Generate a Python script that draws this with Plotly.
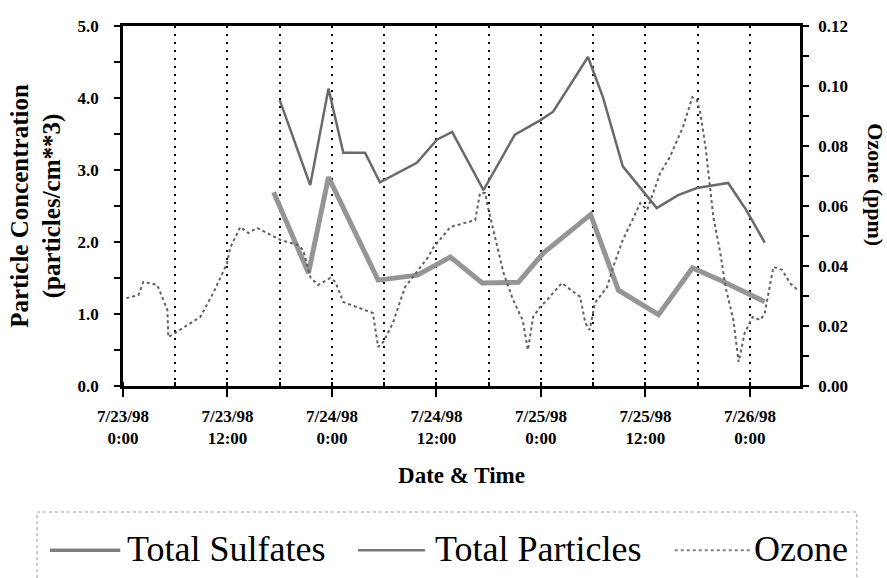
import plotly.graph_objects as go

# ---------------- data ----------------
particles_time = [
    "1998-07-23 18:00", "1998-07-23 21:30", "1998-07-23 23:36", "1998-07-24 01:18",
    "1998-07-24 03:48", "1998-07-24 05:30", "1998-07-24 09:45", "1998-07-24 12:03",
    "1998-07-24 13:48", "1998-07-24 17:24", "1998-07-24 21:00", "1998-07-24 23:54",
    "1998-07-25 01:24", "1998-07-25 05:24", "1998-07-25 07:06", "1998-07-25 09:24",
    "1998-07-25 13:18", "1998-07-25 15:45", "1998-07-25 17:54", "1998-07-25 21:30",
    "1998-07-25 23:36", "1998-07-26 01:42",
]
particles_vals = [3.97, 2.79, 4.13, 3.24, 3.24, 2.83, 3.10, 3.42, 3.53, 2.72, 3.49,
                  3.69, 3.81, 4.57, 4.02, 3.05, 2.47, 2.65, 2.75, 2.82, 2.44, 1.99]

sulfates_time = [
    "1998-07-23 17:18", "1998-07-23 21:18", "1998-07-23 23:36", "1998-07-24 05:18",
    "1998-07-24 09:48", "1998-07-24 13:36", "1998-07-24 17:15", "1998-07-24 21:24",
    "1998-07-25 00:18", "1998-07-25 05:42", "1998-07-25 08:54", "1998-07-25 13:30",
    "1998-07-25 17:24", "1998-07-25 20:36", "1998-07-26 01:42",
]
sulfates_vals = [2.69, 1.57, 2.90, 1.47, 1.54, 1.79, 1.43, 1.44, 1.85, 2.38, 1.33,
                 0.99, 1.64, 1.47, 1.17]

ozone_time = [
    "1998-07-23 00:23", "1998-07-23 01:46", "1998-07-23 02:20", "1998-07-23 03:56",
    "1998-07-23 05:06", "1998-07-23 05:12", "1998-07-23 06:00", "1998-07-23 08:52",
    "1998-07-23 10:22", "1998-07-23 11:58", "1998-07-23 12:18", "1998-07-23 13:28",
    "1998-07-23 14:24", "1998-07-23 15:24", "1998-07-23 18:04", "1998-07-23 20:06",
    "1998-07-23 20:42", "1998-07-23 21:30", "1998-07-23 22:24", "1998-07-23 23:48",
    "1998-07-24 00:24", "1998-07-24 01:18", "1998-07-24 04:42", "1998-07-24 05:18",
    "1998-07-24 05:54", "1998-07-24 07:00", "1998-07-24 07:36", "1998-07-24 08:24",
    "1998-07-24 11:03", "1998-07-24 11:36", "1998-07-24 13:36", "1998-07-24 16:27",
    "1998-07-24 17:00", "1998-07-24 17:36", "1998-07-24 17:54", "1998-07-24 19:06",
    "1998-07-24 19:42", "1998-07-24 20:48", "1998-07-24 21:54", "1998-07-24 22:30",
    "1998-07-24 23:06", "1998-07-24 23:54", "1998-07-25 00:42", "1998-07-25 02:24",
    "1998-07-25 04:30", "1998-07-25 05:06", "1998-07-25 05:36", "1998-07-25 06:12",
    "1998-07-25 07:36", "1998-07-25 08:18", "1998-07-25 09:24", "1998-07-25 10:30",
    "1998-07-25 11:24", "1998-07-25 12:12", "1998-07-25 12:54", "1998-07-25 13:42",
    "1998-07-25 14:48", "1998-07-25 16:18", "1998-07-25 17:24", "1998-07-25 17:54",
    "1998-07-25 18:18", "1998-07-25 18:54", "1998-07-25 19:48", "1998-07-25 20:36",
    "1998-07-25 21:12", "1998-07-25 22:06", "1998-07-25 22:42", "1998-07-25 23:24",
    "1998-07-26 00:18", "1998-07-26 01:12", "1998-07-26 01:42", "1998-07-26 02:06",
    "1998-07-26 02:42", "1998-07-26 03:42", "1998-07-26 04:36", "1998-07-26 05:30",
]
ozone_vals = [
    0.0293, 0.0303, 0.0347, 0.0337, 0.0253, 0.0163, 0.0177, 0.0230,
    0.0310, 0.0410, 0.0460, 0.0530, 0.0510, 0.0527, 0.0487, 0.0470,
    0.0453, 0.0363, 0.0337, 0.0360, 0.0347, 0.0280, 0.0243, 0.0130,
    0.0147, 0.0210, 0.0263, 0.0330, 0.0430, 0.0460, 0.0530, 0.0553,
    0.0643, 0.0643, 0.0597, 0.0443, 0.0377, 0.0287, 0.0220, 0.0120,
    0.0230, 0.0263, 0.0287, 0.0343, 0.0297, 0.0210, 0.0187, 0.0277,
    0.0330, 0.0397, 0.0487, 0.0553, 0.0610, 0.0587, 0.0643, 0.0710,
    0.0763, 0.0863, 0.0963, 0.0953, 0.0910, 0.0797, 0.0563, 0.0443,
    0.0330, 0.0220, 0.0080, 0.0177, 0.0230, 0.0220, 0.0243, 0.0310,
    0.0397, 0.0387, 0.0343, 0.0320,
]

x_tick_vals = ["1998-07-23 00:00", "1998-07-23 12:00", "1998-07-24 00:00", "1998-07-24 12:00",
               "1998-07-25 00:00", "1998-07-25 12:00", "1998-07-26 00:00"]
x_tick_text = ["7/23/98<br>0:00", "7/23/98<br>12:00", "7/24/98<br>0:00", "7/24/98<br>12:00",
               "7/25/98<br>0:00", "7/25/98<br>12:00", "7/26/98<br>0:00"]

legend_names = ["Total Sulfates", "Total Particles", "Ozone"]

# ---------------- figure ----------------
SERIF = "Liberation Serif"
fig = go.Figure()

fig.add_trace(go.Scatter(x=sulfates_time, y=sulfates_vals, mode="lines", name=legend_names[0],
                         line=dict(color="#959595", width=5), yaxis="y"))
fig.add_trace(go.Scatter(x=particles_time, y=particles_vals, mode="lines", name=legend_names[1],
                         line=dict(color="#6a6a6a", width=2.5), yaxis="y"))
fig.add_trace(go.Scatter(x=ozone_time, y=ozone_vals, mode="lines", name=legend_names[2],
                         line=dict(color="#606060", width=2, dash="dot"), yaxis="y2"))

tick_font = dict(family=SERIF, size=17, color="black", weight="bold")

fig.update_layout(
    width=887, height=578,
    margin=dict(l=123, r=87, t=26, b=192),
    paper_bgcolor="white", plot_bgcolor="white",
    showlegend=False,
    font=dict(family=SERIF, color="black"),
    xaxis=dict(
        type="date",
        range=["1998-07-23 00:00", "1998-07-26 05:45"],
        tickvals=x_tick_vals, ticktext=x_tick_text,
        ticks="outside", ticklen=8, tickwidth=1.5, tickcolor="black",
        tickfont=tick_font, ticklabelstandoff=5,
        showline=True, linecolor="black", linewidth=2.5, mirror=True,
        showgrid=True, gridcolor="black", gridwidth=1.5, griddash="2px,6px",
        minor=dict(dtick=6 * 3600 * 1000, tick0="1998-07-23 00:00", ticks="inside",
                   ticklen=4, tickcolor="black", showgrid=True, gridcolor="black",
                   gridwidth=1.5, griddash="2px,6px"),
        title=dict(text="<b>Date & Time</b>", font=dict(family=SERIF, size=23), standoff=20),
        zeroline=False,
    ),
    yaxis=dict(
        range=[0, 5], dtick=1, tickformat=".1f",
        ticks="outside", ticklen=6, tickwidth=1.5, tickcolor="black",
        tickfont=tick_font, ticklabelstandoff=12,
        minor=dict(dtick=0.5, ticks="outside", ticklen=6, tickcolor="black"),
        showline=True, linecolor="black", linewidth=2.5, mirror=True,
        showgrid=False, zeroline=False,
        title=dict(text="<b>Particle Concentration<br>(particles/cm**3)</b>",
                   font=dict(family=SERIF, size=25), standoff=10),
    ),
    yaxis2=dict(
        range=[0, 0.12], dtick=0.02, tickformat=".2f",
        overlaying="y", side="right",
        ticks="outside", ticklen=6, tickwidth=1.5, tickcolor="black",
        tickfont=tick_font, ticklabelstandoff=6,
        minor=dict(dtick=0.01, ticks="outside", ticklen=6, tickcolor="black"),
        showline=True, linecolor="black", linewidth=2.5,
        showgrid=False, zeroline=False,
    ),
)

# right axis title (reads top to bottom)
fig.add_annotation(text="<b>Ozone (ppm)</b>", xref="paper", yref="paper",
                   x=1.111, y=0.56, xanchor="center", yanchor="middle",
                   textangle=90, showarrow=False,
                   font=dict(family=SERIF, size=22, color="black"))

# custom legend box
fig.add_shape(type="rect", xref="paper", yref="paper", x0=-0.127, x1=1.084, y0=-0.62, y1=-0.35,
              line=dict(color="#999999", width=1, dash="dot"), fillcolor="rgba(0,0,0,0)")
legend_styles = [dict(color="#808080", width=3.5),
                 dict(color="#7a7a7a", width=2.5),
                 dict(color="#808080", width=2, dash="dot")]
sample_x = [(-0.108, -0.004), (0.347, 0.446), (0.815, 0.926)]
text_x = [0.003, 0.458, 0.929]
for name, st, (sx0, sx1), tx in zip(legend_names, legend_styles, sample_x, text_x):
    fig.add_shape(type="line", xref="paper", yref="paper", x0=sx0, x1=sx1, y0=-0.456, y1=-0.456,
                  line=st)
    fig.add_annotation(text=name, xref="paper", yref="paper", x=tx, y=-0.452,
                       xanchor="left", yanchor="middle", showarrow=False,
                       font=dict(family=SERIF, size=36, color="black"))

fig.write_html("out.html")
